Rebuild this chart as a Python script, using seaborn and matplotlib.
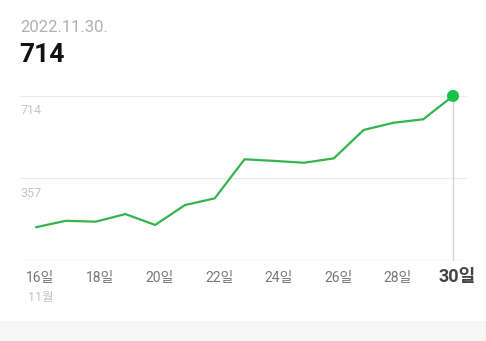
import matplotlib
matplotlib.use("Agg")
import matplotlib.pyplot as plt
import seaborn as sns
import pandas as pd
from matplotlib.patches import Rectangle

days = [16, 17, 18, 19, 20, 21, 22, 23, 24, 25, 26, 27, 28, 29, 30]
values = [146, 174, 170, 203, 156, 242, 271, 440, 433, 425, 444, 567, 598, 613, 714]
tick_days = [16, 18, 20, 22, 24, 26, 28, 30]
tick_labels = ["16일", "18일", "20일", "22일", "24일", "26일", "28일", "30일"]
y_ticks = [357, 714]
date_title = "2022.11.30."
value_title = "714"
month_label = "11월"

sns.set_theme(style="white")
plt.rcParams['font.family'] = ['Roboto', 'Noto Sans CJK KR', 'DejaVu Sans']

W, H = 486, 341
fig = plt.figure(figsize=(W / 100, H / 100), dpi=100)
fig.patch.set_facecolor("white")
fig.patches.append(Rectangle((0, 0), 1, 20 / H, transform=fig.transFigure,
                             facecolor="#f6f6f6", edgecolor="none", zorder=0))

ax = fig.add_axes([20 / W, (H - 261) / H, 447 / W, 181 / H])
ax.set_facecolor("none")
df = pd.DataFrame({"day": days, "value": values})
sns.lineplot(data=df, x="day", y="value", ax=ax, color="#34b34e", linewidth=1.6, zorder=3)
ax.scatter([days[-1]], [values[-1]], s=75, color="#17c248", zorder=4, edgecolors="none")

px_per_day = (453 - 36) / 14
ax.set_xlim(16 - 16 / px_per_day, 30 + 14 / px_per_day)
ax.set_ylim(0, 783)

for v in y_ticks:
    ax.axhline(v, color="#ebebeb", linewidth=0.9, zorder=1)
    ax.text(0, v - 65, str(v), transform=ax.get_yaxis_transform(), ha="left", va="center",
            fontsize=9, color="#c4c4c4", family=['Roboto', 'DejaVu Sans'])
ax.axhline(0, color="#dedede", linewidth=1.0, zorder=1)
ax.plot([days[-1], days[-1]], [0, values[-1]], color="#d4d4d4", linewidth=1.0, zorder=2)

for sp in ax.spines.values():
    sp.set_visible(False)
ax.set_xticks([])
ax.set_yticks([])
ax.set_xlabel("")
ax.set_ylabel("")

for d, lab in zip(tick_days, tick_labels):
    if d == tick_days[-1]:
        ax.text(d + 0.15, -0.09, lab, transform=ax.get_xaxis_transform(), ha="center", va="center",
                fontsize=13, fontweight="bold", color="#444444",
                family=['Roboto', 'Noto Sans CJK KR'])
    else:
        ax.text(d + 0.15, -0.095, lab, transform=ax.get_xaxis_transform(), ha="center", va="center",
                fontsize=10, color="#777777", family=['Roboto', 'Noto Sans CJK KR'])
ax.text(16 + 0.15, -0.2, month_label, transform=ax.get_xaxis_transform(), ha="center", va="center",
        fontsize=9, color="#c4c4c4", family=['Roboto', 'Noto Sans CJK KR'])

fig.text(20 / W, 1 - 27 / H, date_title, ha="left", va="center", fontsize=12, color="#b0b0b0",
         family=['Roboto', 'DejaVu Sans'])
fig.text(19 / W, 1 - 55 / H, value_title, ha="left", va="center", fontsize=19, fontweight="bold",
         color="#111111", family=['Roboto', 'DejaVu Sans'])

fig.savefig("out.png", dpi=100, facecolor="white")
